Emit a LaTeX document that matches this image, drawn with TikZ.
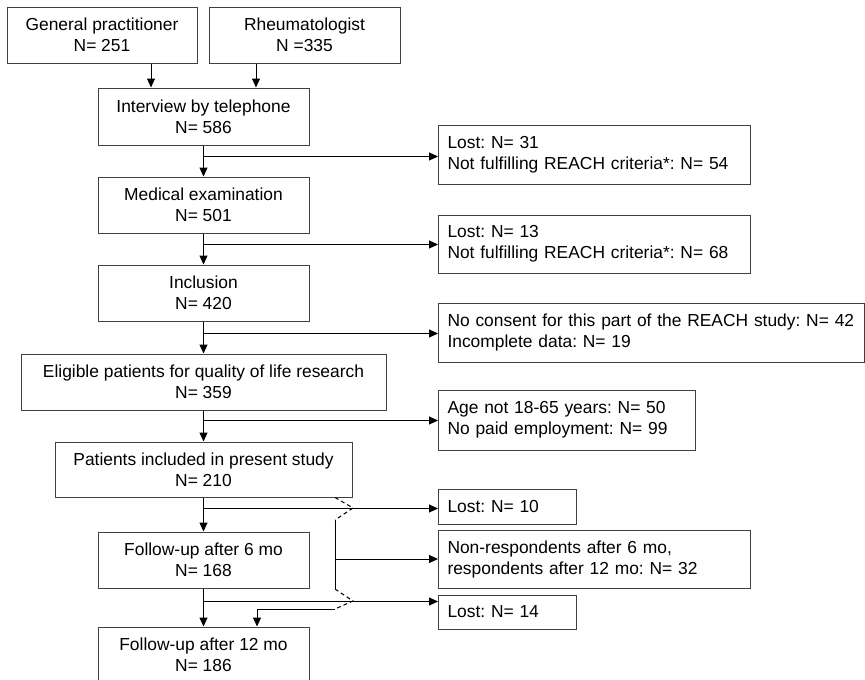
\documentclass[tikz,border=0pt]{standalone}
\usepackage{fontspec}
\setmainfont{Liberation Sans}
\usetikzlibrary{arrows.meta}
\frenchspacing
\begin{document}
\frenchspacing
\begin{tikzpicture}[x=1pt,y=-1pt, font=\fontsize{17.4}{21}\selectfont,
 lbox/.style={draw=black!75, line width=1pt, align=center, inner sep=0pt},
 rbox/.style={draw=black!75, line width=1pt, align=left, anchor=west, inner xsep=9pt, inner ysep=0pt},
 arr/.style={line width=1pt, -{Triangle[length=9pt,width=8pt]}},
 ln/.style={line width=1pt},
 dsh/.style={line width=1pt, dash pattern=on 4pt off 3pt}]
\useasboundingbox (0,0) rectangle (865,680);
% left column
\node[lbox, minimum width=190pt, minimum height=56pt] (gp) at (102,35) {General practitioner\\N= 251};
\node[lbox, minimum width=191pt, minimum height=56pt] (rh) at (304.5,35) {Rheumatologist\\N =335};
\node[lbox, minimum width=211pt, minimum height=57pt] (int) at (203.5,116.5) {Interview by telephone\\N= 586};
\node[lbox, minimum width=211pt, minimum height=56pt] (med) at (203.5,205) {Medical examination\\N= 501};
\node[lbox, minimum width=211pt, minimum height=56pt] (inc) at (203.5,293) {Inclusion\\N= 420};
\node[lbox, minimum width=365pt, minimum height=56pt] (eli) at (203.5,382) {Eligible patients for quality of life research\\N= 359};
\node[lbox, minimum width=297pt, minimum height=55pt] (pat) at (203.5,469.5) {Patients included in present study\\N= 210};
\node[lbox, minimum width=211pt, minimum height=56pt] (fu6) at (203.5,560) {Follow-up after 6 mo\\N= 168};
\node[lbox, minimum width=211pt, minimum height=56pt] (fu12) at (203.5,655) {Follow-up after 12 mo\\N= 186};
% right column
\node[rbox, text width=294pt, minimum height=59pt] (lost1) at (438,154.5) {Lost: N= 31\\Not fulfilling REACH criteria*: N= 54};
\node[rbox, text width=294pt, minimum height=58pt] (lost2) at (438,244) {Lost: N= 13\\Not fulfilling REACH criteria*: N= 68};
\node[rbox, text width=408pt, minimum height=59pt] (cons) at (438,332.5) {No consent for this part of the REACH study: N= 42\\Incomplete data: N= 19};
\node[rbox, text width=239pt, minimum height=60pt] (age) at (438,420) {Age not 18-65 years: N= 50\\No paid employment: N= 99};
\node[rbox, text width=120pt, minimum height=35pt] (l10) at (438,506.5) {Lost: N= 10};
\node[rbox, text width=294pt, minimum height=58pt] (nr) at (438,559) {Non-respondents after 6 mo,\\respondents after 12 mo: N= 32};
\node[rbox, text width=120pt, minimum height=34pt] (l14) at (438,612) {Lost: N= 14};
% top arrows
\draw[arr] ([xshift=49pt]gp.south) -- ([xshift=-52.5pt]int.north);
\draw[arr] ([xshift=-48.5pt]rh.south) -- ([xshift=52.5pt]int.north);
% trunk
\draw[arr] (int.south) -- (med.north);
\draw[arr] (med.south) -- (inc.north);
\draw[arr] (inc.south) -- (eli.north);
\draw[arr] (eli.south) -- (pat.north);
\draw[arr] (pat.south) -- (fu6.north);
\draw[arr] (fu6.south) -- (fu12.north);
% branches
\coordinate (b1) at ([yshift=-11pt]int.south);
\coordinate (b2) at ([yshift=-11pt]med.south);
\coordinate (b3) at ([yshift=-12pt]inc.south);
\coordinate (b4) at ([yshift=-10pt]eli.south);
\coordinate (b5) at ([yshift=-11pt]pat.south);
\coordinate (b6) at ([yshift=-13pt]fu6.south);
\draw[arr] (b1) -- (b1 -| lost1.west);
\draw[arr] (b2) -- (b2 -| lost2.west);
\draw[arr] (b3) -- (b3 -| cons.west);
\draw[arr] (b4) -- (b4 -| age.west);
\draw[arr] (b5) -- (b5 -| l10.west);
\draw[arr] (b6) -- (b6 -| l14.west);
% bracket for non-respondents
\coordinate (c1) at (335,497.5);
\coordinate (c2) at (353,508);
\coordinate (c3) at (335,520);
\coordinate (c4) at (335,589);
\coordinate (c5) at (353,601);
\coordinate (c6) at (335,609);
\coordinate (cf) at ([xshift=53.5pt]fu12.north);
\draw[dsh] (c1) -- (c2) -- (c3);
\draw[ln] (c3) -- (c4);
\draw[dsh] (c4) -- (c5) -- (c6);
\draw[arr] (c6) -- (c6 -| cf) -- (cf);
\draw[arr] (c3 |- nr.west) -- (nr.west);
\end{tikzpicture}
\end{document}
